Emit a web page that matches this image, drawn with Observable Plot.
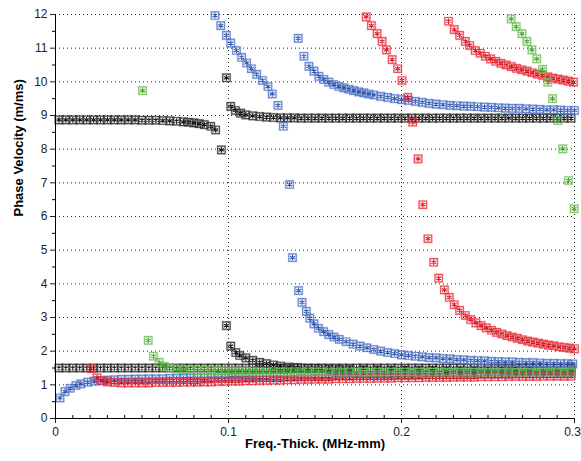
<!DOCTYPE html>
<html>
<head>
<meta charset="utf-8">
<script src="https://cdn.jsdelivr.net/npm/d3@7"></script>
<script src="https://cdn.jsdelivr.net/npm/@observablehq/plot@0.6"></script>
<style>
  html, body { margin: 0; padding: 0; background: #fff; }
  #chart { width: 581px; height: 461px; }
</style>
</head>
<body>
<div id="chart"></div>
<script>
// ---- tick values ----
const xTicks = [0, 0.1, 0.2, 0.3];
const yTicks = [0, 1, 2, 3, 4, 5, 6, 7, 8, 9, 10, 11, 12];
const xGrid = [0.1, 0.2, 0.3];
const yGrid = [1, 2, 3, 4, 5, 6, 7, 8, 9, 10, 11, 12];
const xMinor = [0.01,0.02,0.03,0.04,0.05,0.06,0.07,0.08,0.09,0.11,0.12,0.13,0.14,0.15,0.16,0.17,0.18,0.19,0.21,0.22,0.23,0.24,0.25,0.26,0.27,0.28,0.29];
const yMinor = [0.5,1.5,2.5,3.5,4.5,5.5,6.5,7.5,8.5,9.5,10.5,11.5];

// ---- series: [freq-thickness, phase velocity] ----
const blackUpperLeft = [[0.002,8.87],[0.006,8.87],[0.010,8.87],[0.014,8.87],[0.018,8.87],[0.022,8.87],[0.026,8.87],[0.030,8.87],[0.034,8.87],[0.038,8.87],[0.042,8.87],[0.046,8.87],[0.050,8.86],[0.054,8.86],[0.058,8.86],[0.062,8.85],[0.066,8.84],[0.070,8.83],[0.074,8.81],[0.077,8.80],[0.080,8.78],[0.083,8.76],[0.086,8.73],[0.0897,8.68],[0.0926,8.57],[0.0959,7.98],[0.0988,10.12]];
const blackUpperRight = [[0.1013,9.27],[0.104,9.15],[0.107,9.07],[0.110,9.02],[0.114,8.99],[0.118,8.97],[0.122,8.95],[0.126,8.94],[0.130,8.93],[0.134,8.93],[0.138,8.93],[0.142,8.92],[0.146,8.92],[0.150,8.92],[0.154,8.92],[0.158,8.92],[0.162,8.92],[0.166,8.92],[0.170,8.92],[0.174,8.92],[0.178,8.92],[0.182,8.92],[0.186,8.92],[0.190,8.92],[0.194,8.92],[0.198,8.92],[0.202,8.92],[0.206,8.92],[0.210,8.92],[0.214,8.92],[0.218,8.92],[0.222,8.92],[0.226,8.92],[0.230,8.92],[0.234,8.92],[0.238,8.92],[0.242,8.92],[0.246,8.92],[0.250,8.92],[0.254,8.92],[0.258,8.92],[0.262,8.92],[0.266,8.92],[0.270,8.92],[0.274,8.92],[0.278,8.92],[0.282,8.92],[0.286,8.92],[0.290,8.92],[0.294,8.92],[0.298,8.92]];
const blackFlat = [[0.002,1.5],[0.006,1.5],[0.010,1.5],[0.014,1.5],[0.018,1.5],[0.022,1.5],[0.026,1.5],[0.030,1.5],[0.034,1.5],[0.038,1.5],[0.042,1.5],[0.046,1.5],[0.050,1.5],[0.054,1.5],[0.058,1.5],[0.062,1.5],[0.066,1.5],[0.070,1.5],[0.074,1.5],[0.078,1.5],[0.082,1.5],[0.086,1.5],[0.090,1.5],[0.094,1.5],[0.098,1.5],[0.102,1.5],[0.106,1.5],[0.110,1.5],[0.114,1.5],[0.118,1.5],[0.122,1.5],[0.126,1.5],[0.130,1.5],[0.134,1.5],[0.138,1.5],[0.142,1.5],[0.146,1.5],[0.150,1.5],[0.154,1.5],[0.158,1.5],[0.162,1.5],[0.166,1.5],[0.170,1.5],[0.174,1.5],[0.178,1.5],[0.182,1.5],[0.186,1.5],[0.190,1.5],[0.194,1.5],[0.198,1.5],[0.202,1.5],[0.206,1.5],[0.210,1.5],[0.214,1.5],[0.218,1.5],[0.222,1.5],[0.226,1.5],[0.230,1.5],[0.234,1.5],[0.238,1.5],[0.242,1.5],[0.246,1.5],[0.250,1.5],[0.254,1.5],[0.258,1.5],[0.262,1.5],[0.266,1.5],[0.270,1.5],[0.274,1.5],[0.278,1.5],[0.282,1.5],[0.286,1.5],[0.290,1.5],[0.294,1.5],[0.298,1.5]];
const blackLower = [[0.0988,2.76],[0.1013,2.15],[0.1042,1.96],[0.1065,1.87],[0.110,1.80],[0.114,1.73],[0.118,1.67],[0.122,1.63],[0.126,1.59],[0.130,1.56],[0.135,1.53],[0.140,1.51],[0.146,1.49],[0.152,1.48],[0.158,1.47],[0.164,1.46],[0.170,1.45],[0.178,1.44],[0.186,1.44],[0.194,1.43],[0.202,1.43],[0.210,1.42],[0.218,1.42],[0.226,1.41],[0.234,1.41],[0.242,1.41],[0.250,1.40],[0.258,1.40],[0.266,1.40],[0.274,1.40],[0.282,1.39],[0.290,1.39],[0.298,1.39]];

const blueLow = [[0.0026,0.61],[0.0055,0.80],[0.0085,0.90],[0.0118,0.98],[0.0147,1.03],[0.0186,1.08],[0.0224,1.11],[0.026,1.13],[0.030,1.14],[0.034,1.15],[0.038,1.16],[0.042,1.16],[0.046,1.17],[0.050,1.17],[0.054,1.18],[0.058,1.18],[0.062,1.18],[0.066,1.19],[0.070,1.19],[0.074,1.19],[0.078,1.20],[0.082,1.20],[0.086,1.20],[0.090,1.21],[0.094,1.21],[0.098,1.21],[0.102,1.22],[0.106,1.22],[0.110,1.22],[0.114,1.23],[0.118,1.23],[0.122,1.23],[0.126,1.24],[0.130,1.24],[0.134,1.24],[0.138,1.25],[0.142,1.25],[0.146,1.25],[0.150,1.26],[0.154,1.26],[0.158,1.26],[0.162,1.27],[0.166,1.27],[0.170,1.27],[0.174,1.27],[0.178,1.28],[0.182,1.28],[0.186,1.28],[0.190,1.28],[0.194,1.29],[0.198,1.29],[0.202,1.29],[0.206,1.29],[0.210,1.30],[0.214,1.30],[0.218,1.30],[0.222,1.30],[0.226,1.31],[0.230,1.31],[0.234,1.31],[0.238,1.31],[0.242,1.31],[0.246,1.32],[0.250,1.32],[0.254,1.32],[0.258,1.32],[0.262,1.32],[0.266,1.33],[0.270,1.33],[0.274,1.33],[0.278,1.33],[0.282,1.33],[0.286,1.33],[0.290,1.34],[0.294,1.34],[0.298,1.34]];
const blueMid = [[0.0922,11.97],[0.0955,11.67],[0.0988,11.38],[0.1013,11.15],[0.1046,10.93],[0.1076,10.73],[0.1105,10.56],[0.1132,10.39],[0.1163,10.22],[0.1196,10.04],[0.1228,9.86],[0.1253,9.64],[0.1286,9.30],[0.1317,8.68],[0.1353,6.95],[0.1370,4.78],[0.1405,3.80],[0.1425,3.45],[0.1450,3.18],[0.1470,2.98],[0.1494,2.81],[0.152,2.68],[0.155,2.58],[0.158,2.49],[0.161,2.42],[0.164,2.35],[0.168,2.28],[0.172,2.21],[0.176,2.15],[0.180,2.10],[0.184,2.05],[0.188,2.00],[0.192,1.96],[0.196,1.93],[0.200,1.89],[0.204,1.87],[0.208,1.85],[0.212,1.83],[0.216,1.81],[0.220,1.80],[0.224,1.78],[0.228,1.77],[0.232,1.75],[0.236,1.74],[0.240,1.73],[0.244,1.72],[0.248,1.71],[0.252,1.70],[0.256,1.69],[0.260,1.68],[0.264,1.68],[0.268,1.67],[0.272,1.66],[0.276,1.66],[0.280,1.65],[0.284,1.64],[0.288,1.64],[0.292,1.63],[0.296,1.63],[0.299,1.62]];
const blueHigh = [[0.1403,11.29],[0.1436,10.76],[0.1465,10.46],[0.1494,10.32],[0.1522,10.16],[0.1551,10.07],[0.1580,9.99],[0.1609,9.92],[0.1638,9.86],[0.1667,9.82],[0.1696,9.78],[0.1724,9.74],[0.1753,9.70],[0.1782,9.67],[0.1811,9.64],[0.1840,9.61],[0.188,9.57],[0.192,9.54],[0.196,9.50],[0.200,9.47],[0.204,9.45],[0.208,9.42],[0.212,9.39],[0.216,9.36],[0.220,9.34],[0.224,9.32],[0.228,9.30],[0.232,9.29],[0.236,9.28],[0.240,9.27],[0.244,9.26],[0.248,9.25],[0.252,9.24],[0.256,9.23],[0.260,9.22],[0.264,9.21],[0.268,9.21],[0.272,9.20],[0.276,9.19],[0.280,9.18],[0.284,9.17],[0.288,9.17],[0.292,9.16],[0.296,9.15],[0.300,9.15]];

const redLow = [[0.0205,1.48],[0.024,1.21],[0.027,1.12],[0.030,1.09],[0.034,1.07],[0.038,1.06],[0.042,1.06],[0.046,1.06],[0.050,1.06],[0.054,1.06],[0.058,1.07],[0.062,1.07],[0.066,1.07],[0.070,1.07],[0.074,1.08],[0.078,1.08],[0.082,1.08],[0.086,1.09],[0.090,1.09],[0.094,1.10],[0.098,1.10],[0.102,1.11],[0.106,1.11],[0.110,1.12],[0.114,1.12],[0.118,1.13],[0.122,1.13],[0.126,1.14],[0.130,1.14],[0.134,1.15],[0.138,1.15],[0.142,1.16],[0.146,1.16],[0.150,1.17],[0.154,1.17],[0.158,1.17],[0.162,1.18],[0.166,1.18],[0.170,1.18],[0.174,1.19],[0.178,1.19],[0.182,1.19],[0.186,1.20],[0.190,1.20],[0.194,1.20],[0.198,1.21],[0.202,1.21],[0.206,1.21],[0.210,1.21],[0.214,1.22],[0.218,1.22],[0.222,1.22],[0.226,1.22],[0.230,1.23],[0.234,1.23],[0.238,1.23],[0.242,1.23],[0.246,1.24],[0.250,1.24],[0.254,1.24],[0.258,1.24],[0.262,1.25],[0.266,1.25],[0.270,1.25],[0.274,1.25],[0.278,1.25],[0.282,1.26],[0.286,1.26],[0.290,1.26],[0.294,1.26],[0.298,1.26]];
const redMid = [[0.1796,11.93],[0.1826,11.67],[0.1859,11.43],[0.1888,11.20],[0.1913,10.95],[0.1946,10.66],[0.1978,10.39],[0.2003,10.04],[0.2036,9.54],[0.2065,8.80],[0.2096,7.71],[0.2123,6.35],[0.2153,5.34],[0.2186,4.64],[0.2215,4.17],[0.2248,3.82],[0.2276,3.60],[0.2305,3.38],[0.2336,3.21],[0.2369,3.06],[0.240,2.94],[0.243,2.84],[0.246,2.76],[0.249,2.69],[0.252,2.62],[0.255,2.56],[0.258,2.51],[0.261,2.46],[0.264,2.42],[0.267,2.38],[0.270,2.34],[0.273,2.30],[0.276,2.27],[0.279,2.24],[0.282,2.21],[0.285,2.18],[0.288,2.16],[0.291,2.13],[0.294,2.11],[0.297,2.09],[0.300,2.07]];
const redHigh = [[0.2272,11.80],[0.2305,11.55],[0.2336,11.38],[0.2369,11.20],[0.2394,11.08],[0.2426,10.93],[0.2455,10.85],[0.2485,10.76],[0.2515,10.68],[0.2545,10.61],[0.2575,10.55],[0.2605,10.50],[0.2635,10.45],[0.2665,10.40],[0.2695,10.36],[0.2725,10.32],[0.2755,10.27],[0.2785,10.23],[0.2815,10.19],[0.2845,10.15],[0.2875,10.11],[0.2905,10.08],[0.2935,10.05],[0.2965,10.02],[0.2994,9.99]];

const greenLone = [[0.0503,9.74]];
const greenLow = [[0.0536,2.32],[0.0566,1.85],[0.0599,1.67],[0.0628,1.55],[0.066,1.50],[0.070,1.47],[0.074,1.45],[0.078,1.44],[0.082,1.43],[0.086,1.42],[0.090,1.42],[0.094,1.41],[0.098,1.41],[0.102,1.40],[0.106,1.40],[0.110,1.40],[0.114,1.39],[0.118,1.39],[0.122,1.39],[0.126,1.39],[0.130,1.39],[0.134,1.39],[0.138,1.39],[0.142,1.39],[0.146,1.39],[0.150,1.39],[0.154,1.39],[0.158,1.38],[0.162,1.38],[0.166,1.38],[0.170,1.38],[0.174,1.38],[0.178,1.38],[0.182,1.38],[0.186,1.38],[0.190,1.38],[0.194,1.38],[0.198,1.38],[0.202,1.38],[0.206,1.38],[0.210,1.38],[0.214,1.38],[0.218,1.38],[0.222,1.38],[0.226,1.38],[0.230,1.38],[0.234,1.38],[0.238,1.38],[0.242,1.38],[0.246,1.38],[0.250,1.38],[0.254,1.38],[0.258,1.38],[0.262,1.38],[0.266,1.38],[0.270,1.38],[0.274,1.38],[0.278,1.38],[0.282,1.38],[0.286,1.38],[0.290,1.38],[0.294,1.38],[0.298,1.38]];
const greenHigh = [[0.2634,11.87],[0.2663,11.64],[0.2696,11.43],[0.2725,11.20],[0.2754,10.95],[0.2782,10.68],[0.2815,10.37],[0.2846,9.99],[0.2873,9.50],[0.2904,8.85],[0.2932,8.01],[0.2965,7.07],[0.2998,6.23]];

// ---- styling ----
const palette = {
  black: {box: "#2a2a2a", star: "#000000"},
  blue:  {box: "#4a70cc", star: "#24479e"},
  red:   {box: "#ec2b38", star: "#c80c18"},
  green: {box: "#66bf4c", star: "#359a24"}
};
const groups = [
  {color: "black", series: [blackUpperLeft, blackUpperRight, blackFlat, blackLower]},
  {color: "blue", series: [blueLow, blueMid, blueHigh]},
  {color: "red", series: [redLow, redMid, redHigh]},
  {color: "green", series: [greenLone, greenLow, greenHigh]}
];

const markerMarks = [];
for (const g of groups) {
  const rows = g.series.flat().map(([x, y]) => ({x, y}));
  markerMarks.push(Plot.dot(rows, {x: "x", y: "y", symbol: "square", r: 4.2, stroke: palette[g.color].box, strokeWidth: 2.2, strokeOpacity: 0.22, fill: "none"}));
  markerMarks.push(Plot.dot(rows, {x: "x", y: "y", symbol: "square", r: 4.2, stroke: palette[g.color].box, strokeWidth: 1.2, strokeOpacity: 0.75, fill: "none"}));
  markerMarks.push(Plot.dot(rows, {x: "x", y: "y", symbol: "asterisk", r: 2.6, stroke: palette[g.color].star, strokeWidth: 1.1, strokeOpacity: 0.9}));
}

const W = 581, H = 461, mL = 55, mR = 7, mT = 14, mB = 43;

const chart = Plot.plot({
  width: W,
  height: H,
  marginLeft: mL,
  marginRight: mR,
  marginTop: mT,
  marginBottom: mB,
  style: {fontFamily: "'Liberation Sans', Arial, sans-serif", fontSize: "12px", color: "#222", background: "#fff", overflow: "visible"},
  x: {domain: [0, 0.3], ticks: xTicks, tickFormat: d => String(d), tickSize: 5, tickPadding: 4, label: null},
  y: {domain: [0, 12], ticks: yTicks, tickSize: 5, tickPadding: 3, label: null},
  marks: [
    Plot.ruleY(yGrid, {stroke: "#000", strokeDasharray: "1,3", strokeOpacity: 0.85}),
    Plot.ruleX(xGrid, {stroke: "#000", strokeDasharray: "1,3", strokeOpacity: 0.85}),
    Plot.tickX(xMinor, {stroke: "#000", insetTop: H - mT - mB - 3}),
    Plot.tickY(yMinor, {stroke: "#000", insetLeft: -3, insetRight: W - mL - mR}),
    ...markerMarks,
    Plot.ruleY([0], {stroke: "#000"}),
    Plot.ruleX([0], {stroke: "#000"}),
    Plot.text(["Phase Velocity (m/ms)"], {frameAnchor: "left", dx: -37, rotate: -90, fontWeight: "bold", fontSize: 13, fill: "#000"}),
    Plot.text(["Freq.-Thick. (MHz-mm)"], {frameAnchor: "bottom", dy: 29, fontWeight: "bold", fontSize: 13, fill: "#000"})
  ]
});
// keep the last x tick label inside the 581px window
chart.querySelectorAll("g[aria-label='x-axis tick label'] text").forEach(t => {
  if (t.textContent === "0.3") t.setAttribute("dx", "-2");
});
document.getElementById("chart").appendChild(chart);
</script>
</body>
</html>
